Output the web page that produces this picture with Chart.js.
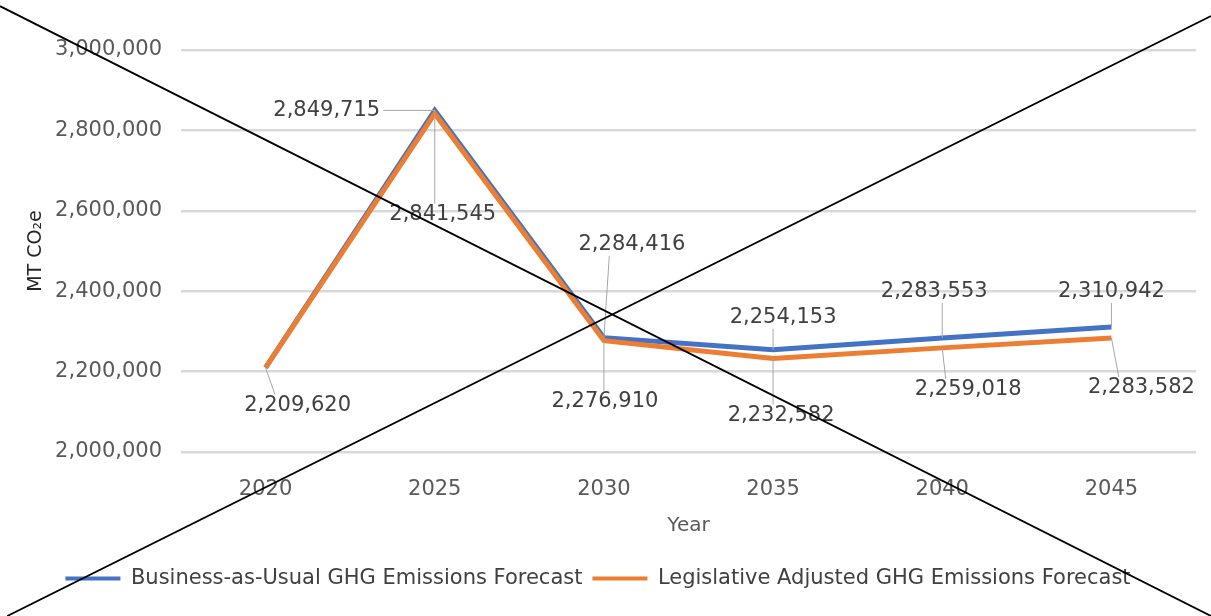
<!DOCTYPE html>
<html lang="en">
<head>
<meta charset="UTF-8" />
<title>GHG Emissions Forecast</title>
<script src="https://cdn.jsdelivr.net/npm/chart.js"></script>
<style>
  html, body { margin: 0; padding: 0; background: #fff; }
  #wrap { width: 1211px; height: 616px; position: relative; }
</style>
</head>
<body>
<div id="wrap"><canvas id="ghgChart"></canvas></div>
<script>
  // values
  const years = ['2020', '2025', '2030', '2035', '2040', '2045'];
  const businessAsUsual = [2209620, 2849715, 2284416, 2254153, 2283553, 2310942];
  const legislativeAdjusted = [2209620, 2841545, 2276910, 2232582, 2259018, 2283582];

  // where each value label sits relative to its point (px), null = no label
  const bauLabelOffsets = [null, [-108, 0], [28, -93], [10, -32], [-8, -46], [0, -35]];
  const legLabelOffsets = [[32, 38], [8, 101], [1, 61], [8, 57], [26, 42], [30, 50]];

  const FONT = 'DejaVu Sans';
  const fmt = v => v.toLocaleString('en-US');

  // value labels with leader lines, Excel style
  const valueLabels = {
    id: 'valueLabels',
    afterDatasetsDraw(chart) {
      const ctx = chart.ctx;
      ctx.save();
      ctx.font = '21px "' + FONT + '"';
      ctx.textAlign = 'center';
      ctx.textBaseline = 'middle';
      chart.data.datasets.forEach((ds, i) => {
        const meta = chart.getDatasetMeta(i);
        meta.data.forEach((pt, j) => {
          const off = ds.labelOffsets[j];
          if (!off) return;
          const text = fmt(ds.data[j]);
          const lx = pt.x + off[0], ly = pt.y + off[1];
          const w = ctx.measureText(text).width + 6, h = 22;
          // leader goes to the label edge, near its middle
          let bx, by;
          if (pt.y > ly - h / 2 && pt.y < ly + h / 2) {
            bx = pt.x < lx ? lx - w / 2 : lx + w / 2;
            by = pt.y;
          } else {
            bx = lx + Math.max(-w * 0.2, Math.min(pt.x - lx, w * 0.2));
            by = pt.y < ly ? ly - h / 2 : ly + h / 2;
          }
          const dist = Math.hypot(bx - pt.x, by - pt.y);
          if (dist > 12) {
            ctx.strokeStyle = '#a6a6a6';
            ctx.lineWidth = 1;
            ctx.beginPath();
            ctx.moveTo(bx, by);
            ctx.lineTo(pt.x, pt.y);
            ctx.stroke();
          }
          ctx.fillStyle = '#404040';
          ctx.fillText(text, lx, ly);
        });
      });
      ctx.restore();
    }
  };

  // the big cross drawn over the picture
  const crossOut = {
    id: 'crossOut',
    afterDraw(chart) {
      const { ctx, width, height } = chart;
      ctx.save();
      ctx.strokeStyle = '#000';
      ctx.lineWidth = 1.8;
      ctx.beginPath();
      ctx.moveTo(0, height * 0.01);
      ctx.lineTo(width, height);
      ctx.moveTo(width * 0.006, height);
      ctx.lineTo(width, height * 0.026);
      ctx.stroke();
      ctx.restore();
    }
  };

  const ctx = document.getElementById('ghgChart').getContext('2d');
  new Chart(ctx, {
    type: 'line',
    data: {
      labels: years,
      datasets: [
        {
          label: 'Business-as-Usual GHG Emissions Forecast',
          data: businessAsUsual,
          labelOffsets: bauLabelOffsets,
          borderColor: '#4472C4',
          backgroundColor: '#4472C4',
          borderWidth: 5,
          pointRadius: 0,
          tension: 0,
          order: 1
        },
        {
          label: 'Legislative Adjusted GHG Emissions Forecast',
          data: legislativeAdjusted,
          labelOffsets: legLabelOffsets,
          borderColor: '#ED7D31',
          backgroundColor: '#ED7D31',
          borderWidth: 5,
          pointRadius: 0,
          tension: 0,
          order: 0
        }
      ]
    },
    options: {
      responsive: true,
      maintainAspectRatio: false,
      animation: false,
      layout: { padding: { top: 50, right: 15, bottom: 17, left: 0 } },
      scales: {
        x: {
          offset: true,
          grid: { display: false, drawTicks: false },
          border: { display: false },
          ticks: { color: '#595959', font: { family: FONT, size: 21 }, padding: 25 },
          title: {
            display: true, text: 'Year', color: '#595959',
            font: { family: FONT, size: 20 }, padding: { top: 13, bottom: 20 }
          },
          afterFit: s => { s.height = 106; }
        },
        y: {
          min: 2000000,
          max: 3000000,
          grid: { color: '#d9d9d9', lineWidth: 2.5, drawTicks: false },
          border: { display: false },
          ticks: {
            stepSize: 200000, color: '#595959', padding: 19,
            font: { family: FONT, size: 21 },
            callback: v => fmt(v)
          },
          title: {
            display: true, text: 'MT CO\u2082e', color: '#262626',
            font: { family: FONT, size: 19 }, padding: { top: 25, bottom: 0 }
          },
          afterFit: s => { s.width = 181; }
        }
      },
      plugins: {
        legend: {
          position: 'bottom',
          labels: {
            boxWidth: 55,
            boxHeight: 4,
            padding: 10,
            color: '#404040',
            font: { family: FONT, size: 21 },
            sort: (a, b) => a.datasetIndex - b.datasetIndex,
            generateLabels: chart =>
              Chart.defaults.plugins.legend.labels.generateLabels(chart).map(l => {
                l.lineWidth = 0;
                l.fillStyle = l.strokeStyle;
                return l;
              })
          }
        },
        tooltip: { enabled: false }
      }
    },
    plugins: [valueLabels, crossOut]
  });
</script>
</body>
</html>
